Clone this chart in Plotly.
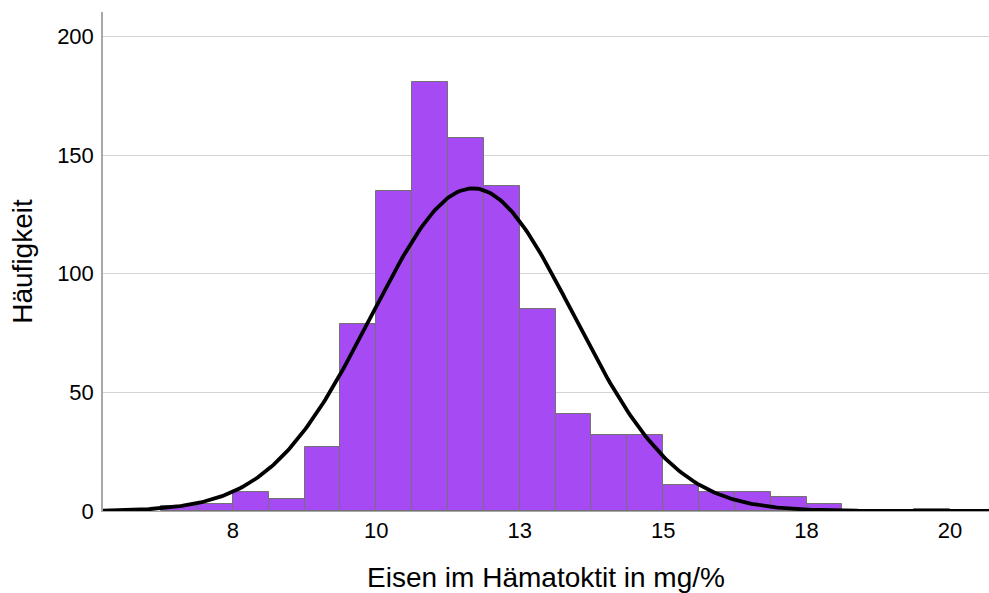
import numpy as np
import plotly.graph_objects as go

# Histogram data (bin width 0.625, starting at 6.25)
bin_start = 6.25
bin_width = 0.625
counts = [2, 3, 8, 5, 27, 79, 135, 181, 157, 137, 85, 41, 32, 32, 11, 8, 8, 6, 3, 0, 0, 1]

# Normal curve parameters
curve_mean = 11.68
curve_sd = 1.762
n_total = sum(counts)

x_tickvals = [7.5, 10, 12.5, 15, 17.5, 20]
x_ticktext = ["8", "10", "13", "15", "18", "20"]
y_tickvals = [0, 50, 100, 150, 200]

centers = [bin_start + bin_width * (i + 0.5) for i in range(len(counts))]

xs = np.linspace(5.2, 20.8, 400)
ys = n_total * bin_width / (curve_sd * np.sqrt(2 * np.pi)) * np.exp(-0.5 * ((xs - curve_mean) / curve_sd) ** 2)

fig = go.Figure()
fig.add_trace(go.Bar(
    x=centers, y=counts, width=bin_width,
    marker=dict(color="#A64AF3", line=dict(color="#727272", width=1)),
    showlegend=False, hoverinfo="x+y",
))
fig.add_trace(go.Scatter(
    x=xs, y=ys, mode="lines", line=dict(color="black", width=3.8),
    showlegend=False, hoverinfo="skip",
))

font = "Liberation Sans, Arial, sans-serif"
fig.update_layout(
    width=989, height=593,
    margin=dict(l=103, r=0, t=12, b=82),
    plot_bgcolor="white", paper_bgcolor="white",
    bargap=0,
    font=dict(family=font, color="black"),
    xaxis=dict(
        range=[5.235, 20.68], tickvals=x_tickvals, ticktext=x_ticktext,
        showgrid=False, zeroline=False, showline=True, linecolor="#a8a8a8", linewidth=1,
        ticks="", tickfont=dict(size=22, family=font), ticklabelstandoff=0,
        title=dict(text="Eisen im Hämatoktit in mg/%", font=dict(size=28, family=font), standoff=24),
    ),
    yaxis=dict(
        range=[0, 210.3], tickvals=y_tickvals,
        showgrid=True, gridcolor="#d4d4d4", gridwidth=1, zeroline=False,
        showline=True, linecolor="#a8a8a8", linewidth=1.5,
        ticks="", tickfont=dict(size=22, family=font), ticklabelstandoff=3,
        title=dict(text="Häufigkeit", font=dict(size=28, family=font), standoff=16),
    ),
)

fig.write_html("out.html", config={"displayModeBar": False},
               post_script="document.body.style.margin='0';document.body.style.padding='0';")
